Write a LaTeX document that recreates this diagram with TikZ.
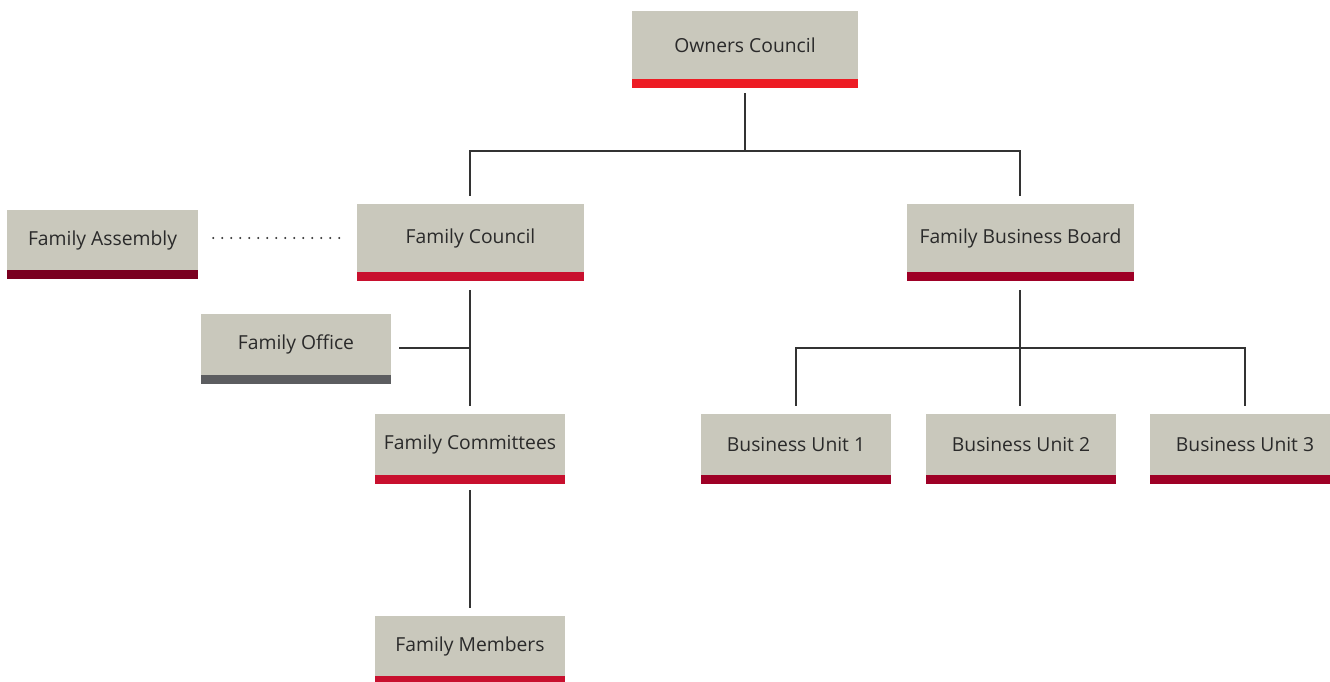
\documentclass[tikz,border=0pt]{standalone}
\usepackage{fontspec}
\setmainfont{Open Sans}
\definecolor{boxgray}{HTML}{C9C8BC}
\definecolor{txtgray}{HTML}{2A2A2A}
\definecolor{brightred}{HTML}{ED1C24}
\definecolor{midred}{HTML}{C8102E}
\definecolor{darkred}{HTML}{9E0026}
\definecolor{maroon}{HTML}{7A0020}
\definecolor{slategray}{HTML}{5C5D60}
\definecolor{linegray}{HTML}{333333}
\begin{document}
\begin{tikzpicture}[x=1pt,y=-1pt,
  orgbox/.style={rectangle, fill=boxgray, text=txtgray, inner sep=0pt,
    font=\fontsize{19.3}{22}\selectfont,
    append after command={\pgfextra{\fill[#1] (\tikzlastnode.south west) rectangle ([yshift=-9pt]\tikzlastnode.south east);}}},
  conn/.style={draw=linegray, line width=1.2pt},
  dotconn/.style={draw=linegray, line width=2.2pt, line cap=round, dash pattern=on 0pt off 9pt}]
\useasboundingbox (0,0) rectangle (1330,682);
\fill[white] (0,0) rectangle (1330,682);

\node[orgbox=brightred, minimum width=226pt, minimum height=68pt] (oc) at (745,45) {\raisebox{-1.5pt}{Owners Council}};
\node[orgbox=maroon, minimum width=191pt, minimum height=60pt] (fa) at (102.5,240) {\raisebox{-1.5pt}{Family Assembly}};
\node[orgbox=midred, minimum width=227pt, minimum height=68pt] (fc) at (470.5,238) {\raisebox{-1.5pt}{Family Council}};
\node[orgbox=darkred, minimum width=227pt, minimum height=68pt] (fbb) at (1020.5,238) {\raisebox{-1.5pt}{Family Business Board}};
\node[orgbox=slategray, minimum width=190pt, minimum height=61pt] (fo) at (296,344.5) {\raisebox{-1.5pt}{Family Office}};
\node[orgbox=midred, minimum width=190pt, minimum height=61pt] (fcm) at (470,444.5) {\raisebox{-1.5pt}{Family Committees}};
\node[orgbox=midred, minimum width=190pt, minimum height=60pt] (fm) at (470,646) {\raisebox{-1.5pt}{Family Members}};
\node[orgbox=darkred, minimum width=190pt, minimum height=61pt] (bu1) at (796,444.5) {\raisebox{-1.5pt}{Business Unit 1}};
\node[orgbox=darkred, minimum width=190pt, minimum height=61pt] (bu2) at (1021,444.5) {\raisebox{-1.5pt}{Business Unit 2}};
\node[orgbox=darkred, minimum width=190pt, minimum height=61pt] (bu3) at (1245,444.5) {\raisebox{-1.5pt}{Business Unit 3}};

% Owners council branch
\coordinate (ocsplit) at (745,151);
\draw[conn] ([yshift=-14pt]oc.south) -- (ocsplit);
\draw[conn] ([yshift=8pt]fc.north -| 470,0) |- (ocsplit) -| ([yshift=8pt]fbb.north -| 1020,0);

% Family council trunk
\draw[conn] ([yshift=-18pt]fc.south -| 470,0) -- ([yshift=8pt]fcm.north);
\coordinate (fojoin) at (470,348);
\draw[conn] ([xshift=8pt]fo.east |- fojoin) -- (fojoin);
\draw[conn] ([yshift=-15pt]fcm.south) -- ([yshift=8pt]fm.north);

% Family assembly dotted
\draw[dotconn] ([xshift=15pt]fa.east |- 0,238) -- ([xshift=-9pt]fc.west |- 0,238);

% Business board branch
\coordinate (fbbsplit) at (1020,348);
\draw[conn] ([yshift=-18pt]fbb.south -| 1020,0) -- (fbbsplit);
\draw[conn] ([yshift=8pt]bu1.north) |- (fbbsplit) -| ([yshift=8pt]bu3.north);
\draw[conn] (fbbsplit) -- ([yshift=8pt]bu2.north -| 1020,0);
\end{tikzpicture}
\end{document}
